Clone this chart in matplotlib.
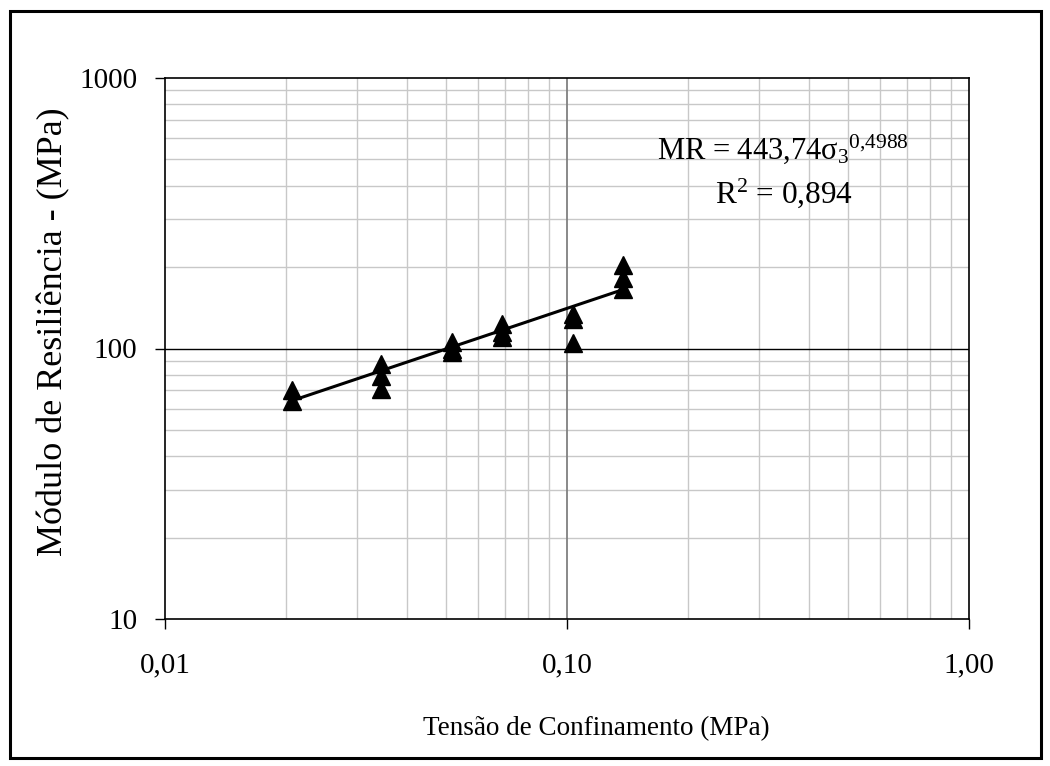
import matplotlib.pyplot as plt
import matplotlib.ticker as mticker
import numpy as np
from matplotlib.patches import Rectangle

plt.rcParams['font.family'] = ['Liberation Serif', 'DejaVu Serif']
plt.rcParams['mathtext.fontset'] = 'custom'
plt.rcParams['mathtext.rm'] = 'Liberation Serif'
plt.rcParams['mathtext.it'] = 'Liberation Serif'

# confining stress (MPa) and resilient modulus (MPa)
sigma3 = [0.0207, 0.0207,
          0.0345, 0.0345, 0.0345,
          0.0517, 0.0517, 0.0517,
          0.0689, 0.0689, 0.0689,
          0.1034, 0.1034, 0.1034,
          0.1379, 0.1379, 0.1379]
mr = [70, 64,
      88, 79, 71,
      106, 100, 97,
      123, 115, 110,
      134, 128, 105,
      203, 183, 166]

# power fit shown on the chart
k1 = 443.74
k2 = 0.4988
fit_x = [min(sigma3), max(sigma3)]
fit_y = [k1 * v ** k2 for v in fit_x]

fig = plt.figure(figsize=(10.5, 7.66), dpi=100)
ax = fig.add_axes([165 / 1050, 1 - 619 / 766, (969 - 165) / 1050, (619 - 78) / 766])

# border around the whole figure
fig.patches.append(Rectangle((10 / 1050, 8 / 766), 1031 / 1050, 747 / 766,
                             transform=fig.transFigure, fill=False,
                             edgecolor='black', linewidth=2.2))

ax.set_xscale('log')
ax.set_yscale('log')
ax.set_xlim(0.01, 1.0)
ax.set_ylim(10, 1000)

# gridlines, Excel style
ax.grid(which='minor', color='#c8c8c8', linewidth=1.0)
ax.axvline(0.1, color='#808080', linewidth=1.3, zorder=1)
ax.axhline(100, color='black', linewidth=1.0, zorder=1)
ax.set_axisbelow(True)

ax.plot(fit_x, fit_y, color='black', linewidth=2.2, zorder=3)
ax.plot(sigma3, mr, linestyle='none', marker='^', markersize=13.5,
        color='black', zorder=4)

ax.xaxis.set_major_locator(mticker.FixedLocator([0.01, 0.1, 1.0]))
ax.xaxis.set_major_formatter(mticker.FixedFormatter(['0,01', '0,10', '1,00']))
ax.yaxis.set_major_locator(mticker.FixedLocator([10, 100, 1000]))
ax.yaxis.set_major_formatter(mticker.FixedFormatter(['10', '100', '1000']))
ax.xaxis.set_minor_locator(mticker.LogLocator(base=10, subs=np.arange(2, 10)))
ax.yaxis.set_minor_locator(mticker.LogLocator(base=10, subs=np.arange(2, 10)))
ax.tick_params(which='major', direction='out', length=7, width=1.0, labelsize=21)
ax.tick_params(axis='x', which='major', pad=17)
ax.tick_params(axis='y', which='major', pad=13)
ax.tick_params(which='minor', length=0)

for sp in ax.spines.values():
    sp.set_linewidth(1.2)
    sp.set_color('black')

ax.set_xlabel('Tensão de Confinamento (MPa)', fontsize=19.5, va='center')
ax.xaxis.set_label_coords(0.537, -0.203)
ax.set_ylabel('Módulo de Resiliência - (MPa)', fontsize=26, va='center')
ax.yaxis.set_label_coords(-0.138, 0.531)

ax.text(0.769, 0.850, r'MR = 443,74$\sigma_3{}^{0{,}4988}$',
        transform=ax.transAxes, fontsize=22, ha='center', va='baseline')
ax.text(0.770, 0.769, r'R$^{2}$ = 0,894',
        transform=ax.transAxes, fontsize=22.5, ha='center', va='baseline')

fig.savefig('out.png', dpi=100)
